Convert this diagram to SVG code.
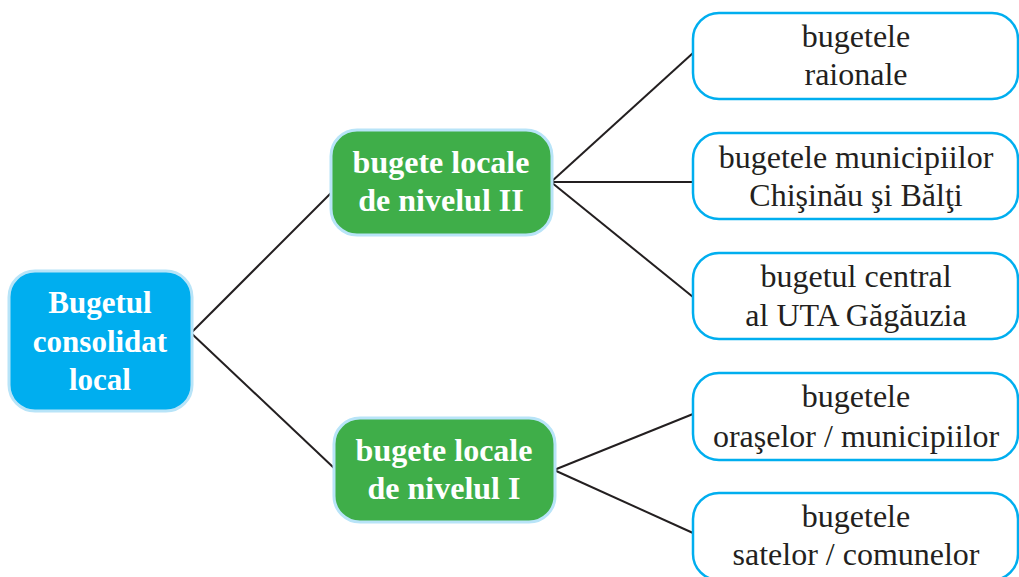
<svg xmlns="http://www.w3.org/2000/svg" width="1019" height="577" viewBox="0 0 1019 577">
<style>
.root{fill:#00aeef;stroke:#b8e4f8;stroke-width:3}
.mid{fill:#3fae49;stroke:#b8e4f8;stroke-width:3}
.leaf{fill:#ffffff;stroke:#00aeef;stroke-width:2.5}
.tb{font-family:"Liberation Serif","Times New Roman",serif;font-weight:bold;font-size:32px;fill:#ffffff;text-anchor:middle}
.tr{font-family:"Liberation Serif","Times New Roman",serif;font-size:32px;fill:#231f20;text-anchor:middle}
.conn line{stroke:#231f20;stroke-width:2}
</style>
<rect width="1019" height="577" fill="#ffffff"/>
<g id="connectors" class="conn">
<line x1="191" y1="333" x2="331" y2="193"/>
<line x1="191" y1="333" x2="334" y2="468"/>
<line x1="551" y1="182" x2="693" y2="53"/>
<line x1="551" y1="182" x2="693" y2="182"/>
<line x1="551" y1="182" x2="693" y2="297"/>
<line x1="554" y1="470" x2="693" y2="414"/>
<line x1="554" y1="470" x2="693" y2="533"/>
</g>
<g id="n-root">
<rect class="root" x="9" y="271" width="183" height="140" rx="26"/>
<text class="tb" x="100" y="313" style="font-size:31px">Bugetul</text>
<text class="tb" x="100" y="352" style="font-size:31px">consolidat</text>
<text class="tb" x="100" y="390" style="font-size:31px">local</text>
</g>
<g id="n-nivel2">
<rect class="mid" x="331" y="130" width="221" height="105" rx="26"/>
<text class="tb" x="441" y="173">bugete locale</text>
<text class="tb" x="441" y="211">de nivelul II</text>
</g>
<g id="n-nivel1">
<rect class="mid" x="334" y="418" width="221" height="104" rx="26"/>
<text class="tb" x="444" y="461">bugete locale</text>
<text class="tb" x="444" y="499">de nivelul I</text>
</g>
<g id="n-raionale">
<rect class="leaf" x="693" y="13" width="325" height="86" rx="26"/>
<text class="tr" x="856" y="47">bugetele</text>
<text class="tr" x="856" y="85">raionale</text>
</g>
<g id="n-municipii">
<rect class="leaf" x="693" y="133" width="325" height="86" rx="26"/>
<text class="tr" x="856" y="168">bugetele municipiilor</text>
<text class="tr" x="856" y="206">Chişinău şi Bălţi</text>
</g>
<g id="n-uta">
<rect class="leaf" x="693" y="253" width="325" height="86" rx="26"/>
<text class="tr" x="856" y="287">bugetul central</text>
<text class="tr" x="856" y="326">al UTA Găgăuzia</text>
</g>
<g id="n-orase">
<rect class="leaf" x="693" y="373" width="325" height="87" rx="26"/>
<text class="tr" x="856" y="407">bugetele</text>
<text class="tr" x="856" y="447">oraşelor / municipiilor</text>
</g>
<g id="n-sate">
<rect class="leaf" x="693" y="493" width="325" height="87" rx="26"/>
<text class="tr" x="856" y="527">bugetele</text>
<text class="tr" x="856" y="565">satelor / comunelor</text>
</g>
</svg>
